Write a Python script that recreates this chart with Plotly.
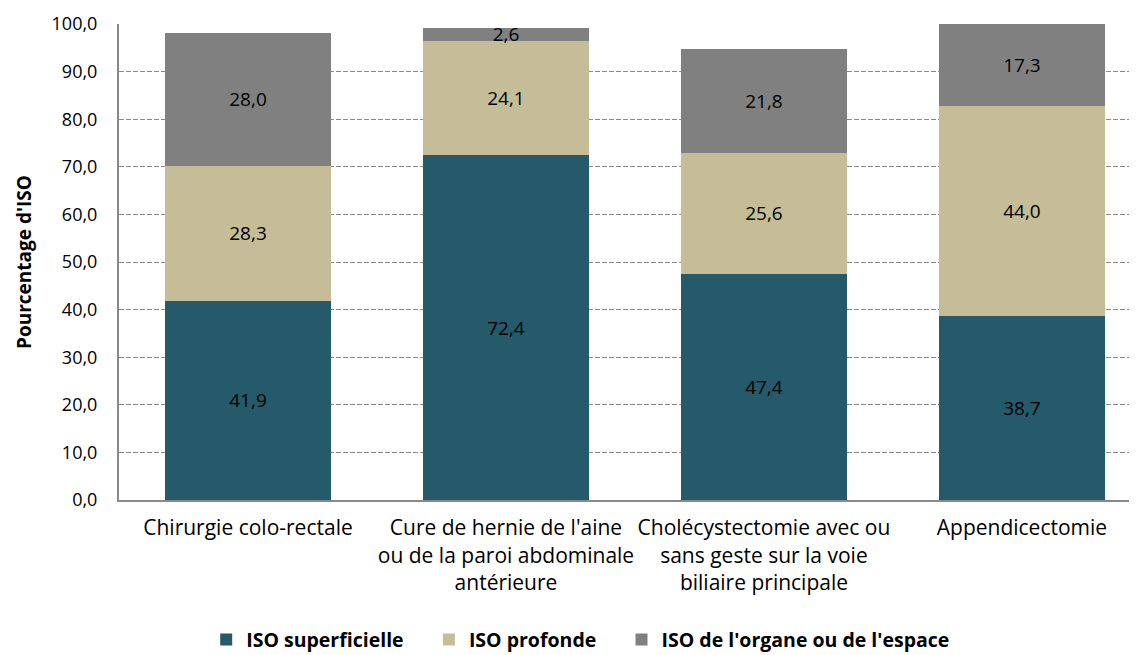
import plotly.graph_objects as go

categories = [
    "Chirurgie colo-rectale",
    "Cure de hernie de l'aine<br>ou de la paroi abdominale<br>antérieure",
    "Cholécystectomie avec ou<br>sans geste sur la voie<br>biliaire principale",
    "Appendicectomie",
]
iso_superficielle = [41.9, 72.4, 47.4, 38.7]
iso_profonde = [28.3, 24.1, 25.6, 44.0]
iso_organe = [28.0, 2.6, 21.8, 17.3]

series = [
    ("ISO superficielle", iso_superficielle, "#245A6A"),
    ("ISO profonde", iso_profonde, "#C4BD97"),
    ("ISO de l'organe ou de l'espace", iso_organe, "#808080"),
]

FONT = "Open Sans"
PAD = "\u00a0" * 4
fig = go.Figure()
for i, (name, vals, col) in enumerate(series):
    fig.add_trace(go.Bar(
        x=categories, y=vals,
        name=name + (PAD if i < len(series) - 1 else ""),
        marker=dict(color=col, line=dict(width=0)),
        text=[f"{v:.1f}".replace(".", ",") for v in vals],
        textposition="inside", insidetextanchor="middle",
        textangle=0, constraintext="none",
        textfont=dict(family=FONT, size=19, color="black"),
        width=0.643,
    ))

fig.update_layout(
    barmode="stack",
    width=1137, height=663,
    margin=dict(l=111, r=0, t=16, b=171),
    plot_bgcolor="white", paper_bgcolor="white",
    separators=", ",
    font=dict(family=FONT, size=18, color="black"),
    legend=dict(orientation="h", x=0.450, xanchor="center", y=-0.294, yanchor="middle",
                font=dict(family=FONT, size=19.5, color="black", weight="bold"),
                traceorder="normal", itemwidth=30),
    showlegend=True,
    annotations=[dict(
        text="<b>Pourcentage d'ISO</b>", textangle=-90,
        xref="paper", yref="paper", x=-0.0926, y=0.5,
        xanchor="center", yanchor="middle", showarrow=False,
        font=dict(family=FONT, size=19, color="black"),
    )],
)
fig.update_xaxes(
    range=[-0.5, 3.477],
    showline=True, linecolor="#898989", linewidth=2,
    tickfont=dict(family=FONT, size=21, color="black"),
    ticks="", showgrid=False, ticklabelstandoff=8,
)
fig.update_yaxes(
    range=[0, 100], dtick=10, tickformat=".1f",
    showline=True, linecolor="#898989", linewidth=2,
    showgrid=True, gridcolor="#8a8a8a", griddash="5px,2px", gridwidth=1,
    tickfont=dict(family=FONT, size=18, color="black"),
    ticks="", zeroline=False, ticklabelstandoff=16,
)
fig.write_html("out.html")
